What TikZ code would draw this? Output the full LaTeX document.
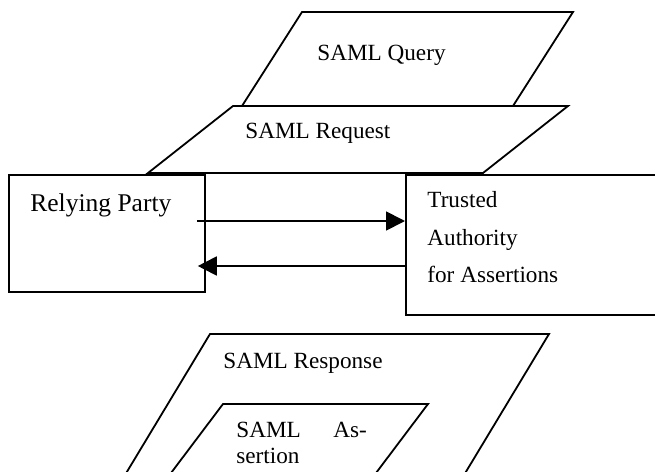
\documentclass[tikz,border=0pt]{standalone}
\usepackage{fontspec}
\setmainfont{Liberation Serif}
\usetikzlibrary{arrows.meta}
\tikzset{
  box/.style={draw, line width=0.9pt, rectangle, inner sep=0pt, anchor=north west},
  msg/.style={draw, line width=0.9pt, line join=miter},
  arr/.style={line width=0.9pt, -{Triangle[length=9.5pt,width=9.5pt]}},
  lbl/.style={anchor=base west, inner sep=0pt, font=\fontsize{11.6}{14}\selectfont}
}
\begin{document}
\begin{tikzpicture}[x=0.5pt,y=-0.5pt]
\useasboundingbox (0,0) rectangle (655,472);
\clip (0,0) rectangle (655,472);
% request side
\draw[msg] (302,12) -- (573,12) -- (513,106) -- (242,106) -- cycle;
\draw[msg] (233,106) -- (568,106) -- (483,173) -- (148,173) -- cycle;
\node[lbl] (query) at (317,60) {SAML Query};
\node[lbl] (request) at (245,138) {SAML Request};
% parties
\node[box, minimum width=98pt, minimum height=58.5pt] (rp) at (8,174) {};
\node[box, minimum width=220pt, minimum height=70pt] (ta) at (405,174) {};
\node[lbl, font=\fontsize{12.75}{15}\selectfont] (rpname) at (30,211) {Relying Party};
\foreach \t/\y [count=\i] in {Trusted/207, Authority/245, for Assertions/282}
  \node[lbl] (taname\i) at (427,\y) {\t};
\draw[arr] ([shift={(-9,47)}]rp.north east) -- ([shift={(0,47)}]ta.north west);
\draw[arr] ([shift={(0,92)}]ta.north west) -- ([shift={(-8,92)}]rp.north east);
% response side
\draw[msg] (210,334) -- (549,334) -- (461,480) -- (122,480) -- cycle;
\draw[msg] (223,404) -- (428,404) -- (376,473) -- (171,473) -- cycle;
\node[lbl] (response) at (223,368) {SAML Response};
\node[lbl] (assert1) at (236,437) {SAML};
\node[lbl] (assert2) at (333,437) {As-};
\node[lbl] (assert3) at (236,463) {sertion};
\end{tikzpicture}
\end{document}
